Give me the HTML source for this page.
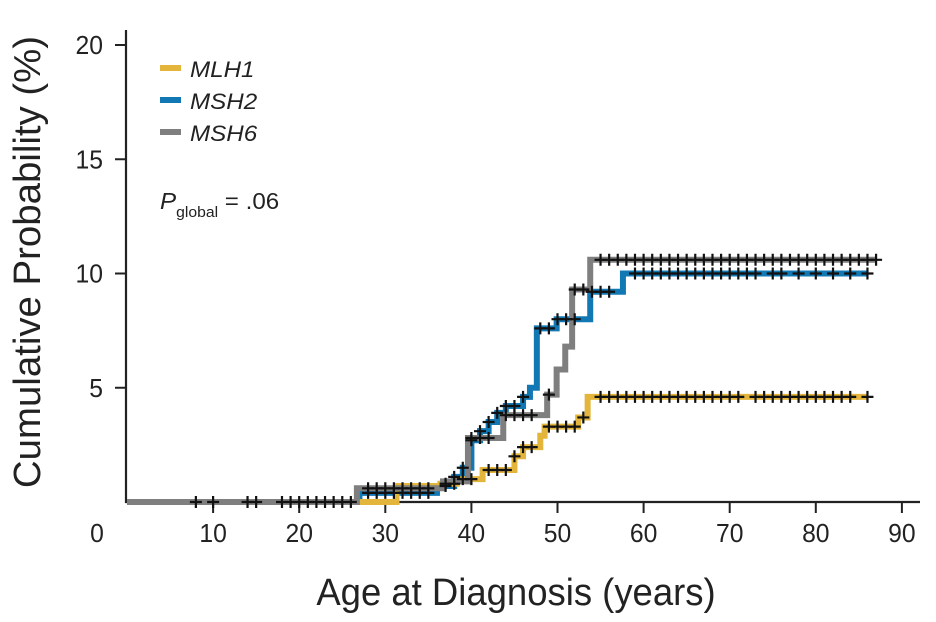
<!DOCTYPE html>
<html><head><meta charset="utf-8"><style>
body{margin:0;background:#fff}
svg{display:block;font-family:"Liberation Sans",sans-serif}
</style></head><body>
<svg id="chart" width="936" height="622" viewBox="0 0 936 622">
<g id="axes"></g>
<g id="series"></g>
<g id="legend">
<line x1="160" y1="68" x2="181" y2="68" stroke="#e3b53b" stroke-width="6"/>
<text transform="translate(190,77) scale(1.1,1)" font-size="22" font-style="italic" fill="#222">MLH1</text>
<line x1="160" y1="100" x2="181" y2="100" stroke="#1278b4" stroke-width="6"/>
<text transform="translate(190,109) scale(1.1,1)" font-size="22" font-style="italic" fill="#222">MSH2</text>
<line x1="160" y1="132" x2="181" y2="132" stroke="#7f7f7f" stroke-width="6"/>
<text transform="translate(190,141) scale(1.1,1)" font-size="22" font-style="italic" fill="#222">MSH6</text>
<text transform="translate(160,209) scale(1.05,1)" font-size="23" fill="#222"><tspan font-style="italic">P</tspan><tspan font-size="15" dy="8">global</tspan><tspan dy="-8"> = .06</tspan></text>
</g>
<text transform="translate(516,605) scale(0.96,1)" font-size="38" text-anchor="middle" fill="#222">Age at Diagnosis (years)</text>
<text transform="translate(40,262) rotate(-90) scale(1.01,1)" font-size="38" text-anchor="middle" fill="#222">Cumulative Probability (%)</text>
</svg>
<script>
const xTicks=[10,20,30,40,50,60,70,80,90];
const yTicks=[5,10,15,20];
const seriesNames=["MSH6","MSH2","MLH1"];
const seriesColors=["#7f7f7f","#1278b4","#e3b53b"];
const msh6Ages=[0,26.7,36.7,39.6,43.7,48.8,49.9,50.9,51.7,53.8,87];
const msh6Vals=[0,0.6,0.9,2.8,3.8,4.7,5.8,6.8,9.3,10.6,10.6];
const msh2Ages=[0,27,36,38,39,40,41,42,43,44,46,46.8,47.6,49.9,53.8,57.6,86];
const msh2Vals=[0,0.4,0.7,1.1,1.5,2.7,3.1,3.5,3.9,4.2,4.6,5.0,7.6,8.0,9.2,10.0,10.0];
const mlh1Ages=[0,31.3,36.4,38.3,41.3,45,46,48,48.5,52.4,53.5,86];
const mlh1Vals=[0,0.7,0.8,1.0,1.4,2.0,2.4,2.9,3.3,3.7,4.6,4.6];
const msh6Censor=[8,10,14,15,18,19,20,21,22,23,24,25,26,28,29,30,31,32,33,34,35,40,41,42,44,45,46,47,49,52,53,55,56,57,58,59,60,61,62,63,64,65,66,67,68,69,70,71,72,73,74,75,76,77,78,79,80,81,82,83,84,85,86,87];
const msh2Censor=[28,29,30,31,32,33,34,35,37,38,39,40,41,42,43,44,45,46,48,49,50,51,52,54,55,56,59,60,61,62,63,64,65,66,67,68,69,70,71,72,73,75,76,78,80,82,84,86];
const mlh1Censor=[37,38,39,40,42,43,44,45,46,47,49,50,51,52,53,55,56,57,58,59,60,61,62,63,64,65,66,67,68,69,70,71,73,74,75,76,77,78,79,80,81,82,83,84,86];
const X=a=>127+a*8.61, Y=v=>502-v*22.85;
const NS="http://www.w3.org/2000/svg";
function mk(t,at,p){const e=document.createElementNS(NS,t);for(const k in at)e.setAttribute(k,at[k]);p.appendChild(e);return e;}
const ax=document.getElementById('axes');
let l=mk('line',{x1:126,y1:30,x2:126,y2:503,stroke:'#222','stroke-width':2.2},ax);


l=mk('line',{x1:125,y1:502,x2:920,y2:502,stroke:'#222','stroke-width':2.2},ax);


yTicks.forEach(v=>{
  const t=mk('line',{x1:115,y1:Y(v),x2:126,y2:Y(v),stroke:'#222','stroke-width':2},ax);
  
  
  const tx=mk('text',{transform:`translate(103,${Y(v)+9}) scale(0.95,1)`,'font-size':26,'text-anchor':'end',fill:'#222'},ax);tx.textContent=v;
  
  
});
xTicks.forEach(v=>{
  const t=mk('line',{x1:X(v),y1:502,x2:X(v),y2:513,stroke:'#222','stroke-width':2},ax);
  
  
  const tx=mk('text',{transform:`translate(${X(v)},${542}) scale(0.95,1)`,'font-size':26,'text-anchor':'middle',fill:'#222'},ax);tx.textContent=v;
  
  
});
let z=mk('text',{transform:'translate(97,542) scale(0.95,1)','font-size':26,'text-anchor':'middle',fill:'#222'},ax);z.textContent='0';


const sg=document.getElementById('series');
function stepVal(ages,vals,a){let v=vals[0];for(let i=0;i<ages.length;i++){if(ages[i]<=a)v=vals[i];}return v;}
const curves=[[msh2Ages,msh2Vals,1],[mlh1Ages,mlh1Vals,2],[msh6Ages,msh6Vals,0]];
curves.forEach(([ages,vals,i])=>{
  let d='M'+X(ages[0])+','+Y(vals[0]);
  for(let k=1;k<ages.length;k++){d+=' H'+X(ages[k])+' V'+Y(vals[k]);}
  const p=mk('path',{d:d,fill:'none',stroke:seriesColors[i],'stroke-width':6},sg);
  
  
});
[[msh6Ages,msh6Vals,msh6Censor],[msh2Ages,msh2Vals,msh2Censor],[mlh1Ages,mlh1Vals,mlh1Censor]].forEach(s=>{
  s[2].forEach(a=>{
    const x=X(a),y=Y(stepVal(s[0],s[1],a));
    const c=mk('path',{d:`M${x-6},${y} H${x+6} M${x},${y-6} V${y+6}`,stroke:'#111','stroke-width':2.2},sg);
    
    
  });
});
</script>
</body></html>
